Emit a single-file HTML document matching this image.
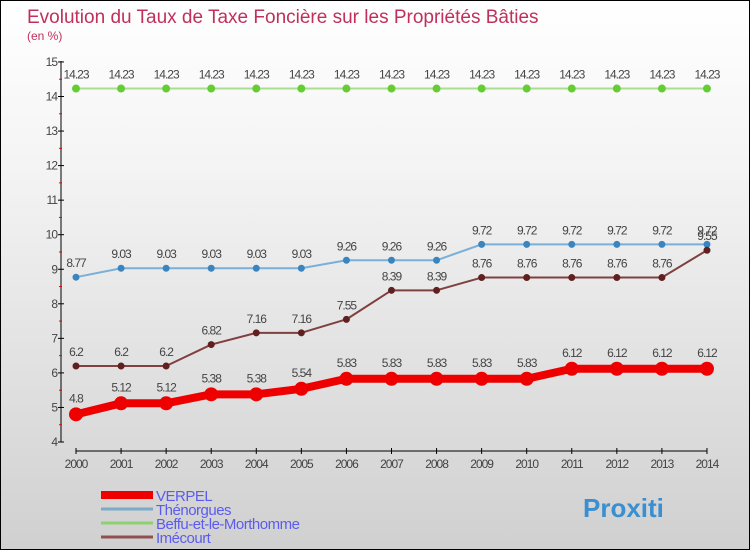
<!DOCTYPE html>
<html><head><meta charset="utf-8"><style>
body{margin:0}
#c{width:748px;height:548px;border:1px solid #000;background:linear-gradient(#fff,#f4f4f4 30%,#d0d0d0);position:relative;font-family:"Liberation Sans",sans-serif}
</style></head><body>
<div id="c">
<svg id="s" width="748" height="548" xmlns="http://www.w3.org/2000/svg" style="position:absolute;left:0;top:0"></svg>
</div>
<script>
const years=[2000,2001,2002,2003,2004,2005,2006,2007,2008,2009,2010,2011,2012,2013,2014];
const verpel=[4.8,5.12,5.12,5.38,5.38,5.54,5.83,5.83,5.83,5.83,5.83,6.12,6.12,6.12,6.12];
const thenorgues=[8.77,9.03,9.03,9.03,9.03,9.03,9.26,9.26,9.26,9.72,9.72,9.72,9.72,9.72,9.72];
const beffu=[14.23,14.23,14.23,14.23,14.23,14.23,14.23,14.23,14.23,14.23,14.23,14.23,14.23,14.23,14.23];
const imecourt=[6.2,6.2,6.2,6.82,7.16,7.16,7.55,8.39,8.39,8.76,8.76,8.76,8.76,8.76,9.55];
const yTicks=[4,5,6,7,8,9,10,11,12,13,14,15];
const seriesNames=["VERPEL","Thénorgues","Beffu-et-le-Morthomme","Imécourt"];
const s=document.getElementById('s');const NS='http://www.w3.org/2000/svg';
const X=i=>75+i*45.07, Y=v=>441-(v-4)*34.55;
function mk(t,a,txt){const e=document.createElementNS(NS,t);for(const k in a)e.setAttribute(k,a[k]);if(txt!==undefined)e.textContent=txt;s.appendChild(e);return e;}
let e;
e=mk('text',{x:26,y:22,'font-size':19,fill:'#c0305a'},'Evolution du Taux de Taxe Foncière sur les Propriétés Bâties');


e=mk('text',{x:26,y:39,'font-size':12,fill:'#c0305a'},'(en %)');


e=mk('line',{x1:60,y1:60,x2:60,y2:441,stroke:'#000'});


e=mk('line',{x1:75,y1:450,x2:706,y2:450,stroke:'#000'});


yTicks.forEach(v=>{mk('line',{x1:57,x2:63,y1:Y(v),y2:Y(v),stroke:'#000'});
 if(v<15)mk('line',{x1:58,x2:61,y1:Y(v+0.5),y2:Y(v+0.5),stroke:'#e00'});
 e=mk('text',{x:56,y:Y(v)+4,'font-size':12,fill:'#444','text-anchor':'end','letter-spacing':'-1'},v);
 
 });
years.forEach((yr,i)=>{mk('line',{x1:X(i),x2:X(i),y1:447,y2:453,stroke:'#000'});
 e=mk('text',{x:X(i),y:467,'font-size':12,fill:'#444','text-anchor':'middle','letter-spacing':'-1'},yr);
 
 });
function series(d,col,w,r,dot,name){
 const pts=d.map((v,i)=>X(i)+','+Y(v)).join(' ');
 e=mk('polyline',{points:pts,fill:'none',stroke:col,'stroke-width':w,'stroke-linejoin':'round'});
 
 
 d.forEach((v,i)=>{e=mk('circle',{cx:X(i),cy:Y(v),r:r,fill:dot});
  
  
  e=mk('text',{x:X(i),y:Y(v)-10-(r>5?2:0),'font-size':12,fill:'#444','text-anchor':'middle','letter-spacing':'-1'},v);
  
  });
}
series(beffu,'#a8e090',2,4,'#6c3','beffu');
series(thenorgues,'#7ab0d8',2,3.5,'#3a85c0','thenorgues');
series(imecourt,'#804040',2,3.5,'#602020','imecourt');
series(verpel,'#e00',8,7,'#e00','verpel');
const legCols=['#e00','#7aaac8','#90d070','#905050'],legW=[8,3,3,3];
seriesNames.forEach((n,i)=>{const y=494+i*14;
 e=mk('line',{x1:100,x2:152,y1:y,y2:y,stroke:legCols[i],'stroke-width':legW[i]});
 
 
 e=mk('text',{x:155,y:y+6,'font-size':15,fill:'#5b5bf0','letter-spacing':'-0.5'},n);
 
 });
e=mk('text',{x:582,y:516,'font-size':26,'font-weight':'bold',fill:'#3a8fd0'},'Proxiti');


</script>
</body></html>
